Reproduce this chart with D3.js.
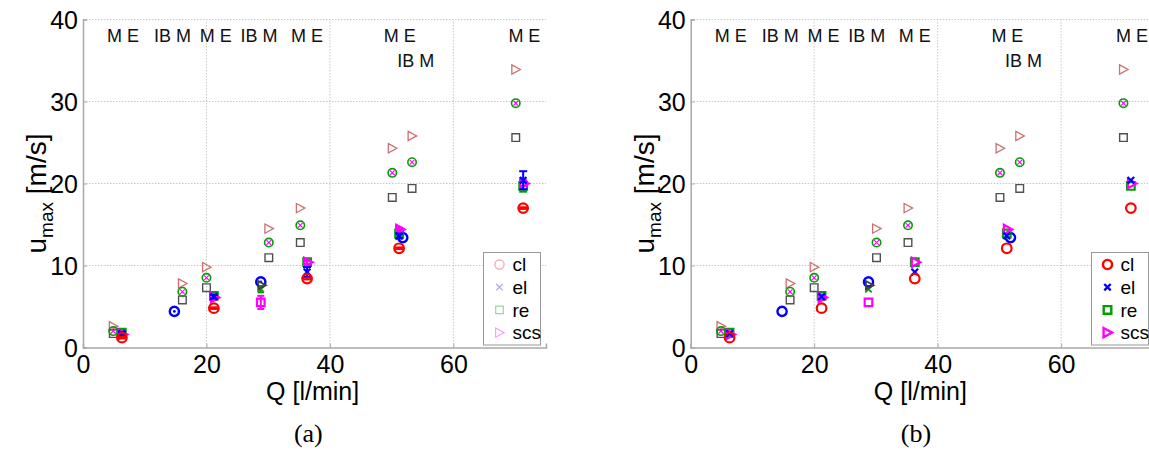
<!DOCTYPE html>
<html><head><meta charset="utf-8">
<script src="https://cdn.jsdelivr.net/npm/d3@7"></script>
<style>body{margin:0;background:#fff} svg{display:block}</style>
</head><body>
<svg id="c" width="1149" height="452"></svg>
<script>
// ---------- data ----------
const xTicks = [0, 20, 40, 60];
const yTicks = [0, 10, 20, 30, 40];
const seriesNames = ["cl", "el", "re", "scs"];

// model columns (triangle / circle-x / square)
const mQ    = [4.9, 16.1, 20.0, 30.1, 35.2, 50.1, 53.3, 70.1];
const mTri  = [2.6, 7.8, 9.8, 14.5, 17.0, 24.3, 25.8, 33.9];
const mCirc = [2.0, 6.8, 8.5, 12.8, 14.9, 21.3, 22.6, 29.8];
const mSq   = [1.7, 5.8, 7.3, 10.95, 12.8, 18.3, 19.4, 25.6];

// coloured series
const eQ  = [6.3, 21.2, 36.3, 51.2, 71.3];
const cl  = [1.2, 4.8, 8.4, 12.1, 17.0];
const el  = [1.7, 6.2, 9.2, 13.6, 20.4];
const re  = [1.8, 6.3, 10.4, 13.9, 19.7];
const scs = [1.6, 6.1, 10.4, 14.4, 20.0];
const clErr  = [0.1, 0.1, 0.1, 0.1, 0.1];
const elErr  = [0.2, 0.2, 0.6, 0.3, 1.1];
const reErr  = [0.2, 0.2, 0.2, 0.2, 0.7];
const scsErr = [0.2, 0.2, 0.2, 0.2, 0.3];

// IB points
const ibQ = [14.8, 28.8, 51.8];
const ibCircle = [4.4, 8.0, 13.4];
const ib2Q = [28.8];
const ib2Tri = [7.6];
const ib2X = [7.1];
const ib2XErr = [0.4];
const ib2Sq = [5.5];
const ib2SqErr = [0.8];

// top labels
const labelText = ["M E", "IB M", "M E", "IB M", "M E", "M E", "IB M", "M E"];
const labelQ    = [6.5, 14.5, 21.5, 28.5, 36.3, 51.3, 53.9, 71.5];
const labelU    = [38.0, 38.0, 38.0, 38.0, 38.0, 38.0, 35.0, 38.0];

// ---------- drawing ----------
const svg = d3.select("#c");
const SANS = "'Liberation Sans', Arial, Helvetica, sans-serif";
const RED = "#ff0000", BLUE = "#0000ff", GREEN = "#00a000", MAG = "#ff00ff";
const GRAY = "#505050", ROSY = "#cc7070";

function circ(r){ return `M${r},0A${r},${r} 0 1,1 ${-r},0A${r},${r} 0 1,1 ${r},0Z`; }
const shapes = {
  circle: r => circ(r),
  square: s => `M${-s},${-s}H${s}V${s}H${-s}Z`,
  tri: s => `M${-s*0.85},${-s}L${s},0L${-s*0.85},${s}Z`,
  x: s => `M${-s},${-s}L${s},${s}M${-s},${s}L${s},${-s}`
};

function marker(g, type, px, py, color, sw, size){
  g.append("path").attr("d", shapes[type](size)).attr("transform", `translate(${px},${py})`)
    .attr("fill", "none").attr("stroke", color).attr("stroke-width", sw)
    .attr("stroke-linejoin", "miter");
}
function errbar(g, px, y, v, e, color, sw, cap){
  const y1 = y(v - e), y2 = y(v + e);
  g.append("line").attr("x1", px).attr("x2", px).attr("y1", y1).attr("y2", y2)
    .attr("stroke", color).attr("stroke-width", sw);
  [y1, y2].forEach(yy => g.append("line").attr("x1", px - cap).attr("x2", px + cap)
    .attr("y1", yy).attr("y2", yy).attr("stroke", color).attr("stroke-width", sw));
}

const panels = [
  {x0: 83, caption: "(a)", lx: 483.5, faded: true},
  {x0: 690.7, caption: "(b)", lx: 1091.5, faded: false}
];

panels.forEach(P => {
  const g = svg.append("g");
  const x = d3.scaleLinear().domain([0, 75]).range([P.x0, P.x0 + 463]);
  const y = d3.scaleLinear().domain([0, 40]).range([347.5, 19.5]);

  // grid
  g.append("g").selectAll("line").data(xTicks.slice(1)).join("line")
    .attr("x1", d => x(d)).attr("x2", d => x(d)).attr("y1", y(0)).attr("y2", y(40))
    .attr("stroke", "#c8c8c8").attr("stroke-dasharray", "1.5,1.5");
  g.append("g").selectAll("line").data(yTicks.slice(1)).join("line")
    .attr("x1", x(0)).attr("x2", x(75)).attr("y1", d => y(d)).attr("y2", d => y(d))
    .attr("stroke", "#c8c8c8").attr("stroke-dasharray", "1.5,1.5");

  // axes
  const ax = d3.axisBottom(x).tickValues(xTicks).tickSize(-4).tickPadding(0).tickFormat(d3.format("d"));
  const ay = d3.axisLeft(y).tickValues(yTicks).tickSize(-4).tickPadding(5).tickFormat(d3.format("d"));
  const gx = g.append("g").attr("transform", `translate(0,${y(0)})`).call(ax);
  const gy = g.append("g").attr("transform", `translate(${x(0)},0)`).call(ay);
  [gx, gy].forEach(a => {
    a.select(".domain").attr("stroke", "#a8a8a8").attr("stroke-width", 1.5);
    a.selectAll(".tick line").attr("stroke", "#a8a8a8");
    a.selectAll("text").attr("font-family", SANS).attr("font-size", 25).attr("fill", "#000");
  });
  gx.selectAll("text").attr("y", 25).attr("dy", 0);
  gy.selectAll("text").attr("dy", "0.36em");

  // axis labels
  g.append("text").attr("x", x(37.2)).attr("y", 400).attr("text-anchor", "middle")
    .attr("font-family", SANS).attr("font-size", 25).text("Q [l/min]");
  const yl = g.append("text").attr("transform", `translate(${P.x0 - 37},${y(20) + 10}) rotate(-90)`)
    .attr("text-anchor", "middle").attr("font-family", SANS).attr("font-size", 28);
  yl.append("tspan").text("u");
  yl.append("tspan").attr("font-size", 19).attr("dy", 7).text("max");
  yl.append("tspan").attr("dy", -7).text(" [m/s]");

  // caption
  g.append("text").attr("x", x(36.5)).attr("y", 442).attr("text-anchor", "middle")
    .attr("font-family", "'Liberation Serif', 'DejaVu Serif', serif").attr("font-size", 26).text(P.caption);

  // top labels
  labelText.forEach((t, i) => {
    g.append("text").attr("x", x(labelQ[i])).attr("y", y(labelU[i])).attr("dy", "0.36em")
      .attr("text-anchor", "middle").attr("font-family", SANS).attr("font-size", 18)
      .attr("fill", "#111").text(t);
  });

  const m = g.append("g");
  // model columns
  mQ.forEach((q, i) => {
    const px = x(q);
    marker(m, "tri", px, y(mTri[i]), ROSY, 1.3, 4.6);
    marker(m, "square", px, y(mSq[i]), GRAY, 1.4, 3.8);
    marker(m, "circle", px, y(mCirc[i]), GREEN, 1.6, 4.2);
    marker(m, "x", px, y(mCirc[i]), MAG, 1.1, 2.4);
  });

  const sw = 2.2;
  // IB points
  ibQ.forEach((q, i) => {
    const px = x(q);
    marker(m, "circle", px, y(ibCircle[i]), BLUE, 2.4, 4.6);
    if (P.faded) m.append("circle").attr("cx", px).attr("cy", y(ibCircle[i])).attr("r", 1.4).attr("fill", BLUE);
  });
  ib2Q.forEach((q, i) => {
    const px = x(q);
    if (P.faded) {
      errbar(m, px, y, ib2Sq[i], ib2SqErr[i], MAG, 2, 3.5);
      errbar(m, px, y, ib2X[i], ib2XErr[i], GREEN, 1.6, 3);
    }
    marker(m, "square", px, y(ib2Sq[i]), MAG, sw, 3.8);
    marker(m, "x", px, y(ib2X[i]), GREEN, 1.8, 3.2);
    marker(m, "tri", px + 1, y(ib2Tri[i]), "#404040", 1.8, 4.2);
  });

  // coloured series
  const ser = [
    {v: re, e: reErr, c: GREEN, t: "square", s: 3.8},
    {v: scs, e: scsErr, c: MAG, t: "tri", s: 4.6},
    {v: el, e: elErr, c: BLUE, t: "x", s: 3.3},
    {v: cl, e: clErr, c: RED, t: "circle", s: 4.8}
  ];
  ser.forEach(S => {
    eQ.forEach((q, i) => {
      const px = x(q) + (S.t === "tri" ? 1 : 0);
      if (P.faded) errbar(m, x(q), y, S.v[i], S.e[i], S.c, 2, 4);
      marker(m, S.t, px, y(S.v[i]), S.c, sw, S.s);
    });
  });

  // legend
  const L = g.append("g").attr("transform", `translate(${P.lx},252.5)`);
  L.append("rect").attr("width", 57).attr("height", 92.5).attr("fill", "#fff")
    .attr("stroke", "#999").attr("stroke-width", 1);
  const legCols = P.faded ? ["#f4a4a4", "#a9a9f4", "#9ed49e", "#f4a4f4"] : [RED, BLUE, GREEN, MAG];
  const legTypes = ["circle", "x", "square", "tri"];
  const legSizes = [4.6, 3.2, 3.8, 4.6];
  seriesNames.forEach((n, i) => {
    const yy = 12 + i * 22.7;
    marker(L, legTypes[i], 16, yy, legCols[i], P.faded ? 1.2 : 2.4, legSizes[i]);
    L.append("text").attr("x", 29).attr("y", yy).attr("dy", "0.36em")
      .attr("font-family", SANS).attr("font-size", 19).text(n);
  });
});
</script>
</body></html>
